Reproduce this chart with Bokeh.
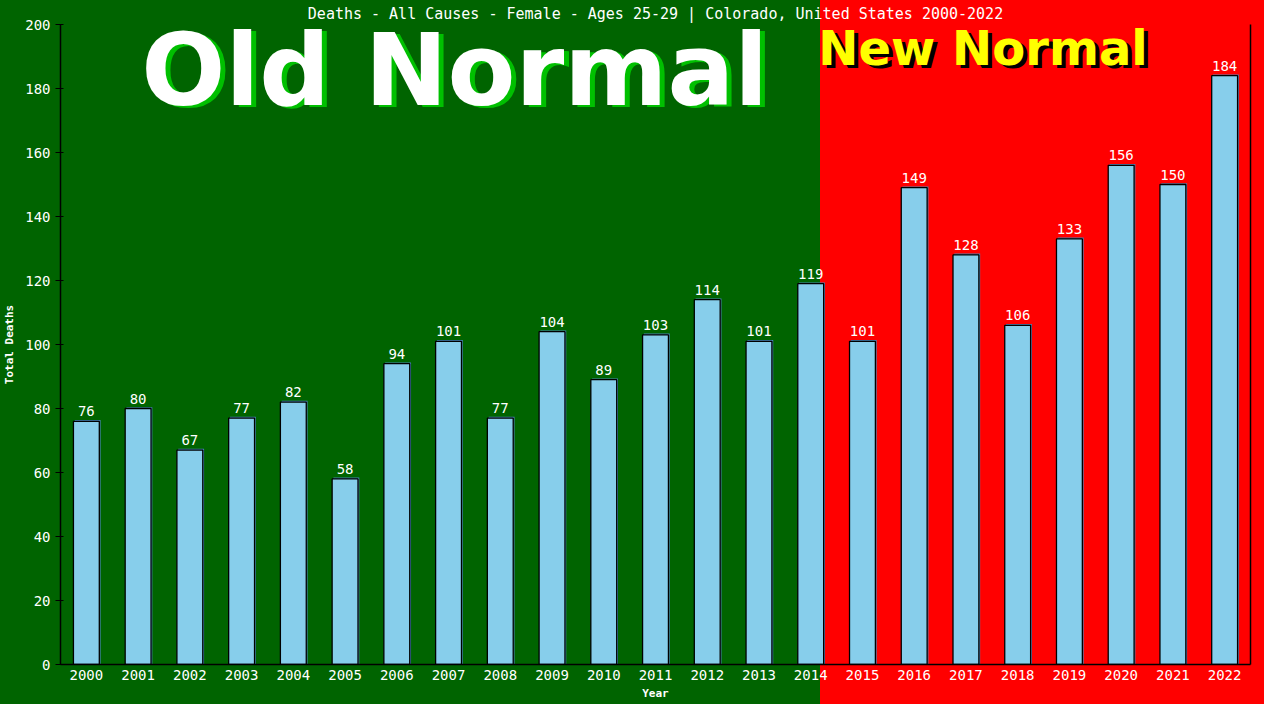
from bokeh.plotting import figure
from bokeh.models import ColumnDataSource, FixedTicker, LinearAxis, Range1d
from bokeh.core.properties import value
from bokeh.embed import file_html
from bokeh.resources import INLINE

years = list(range(2000, 2023))
deaths = [76, 80, 67, 77, 82, 58, 94, 101, 77, 104, 89, 103, 114, 101, 119,
          101, 149, 128, 106, 133, 156, 150, 184]
y_ticks = list(range(0, 201, 20))
title_text = "Deaths - All Causes - Female - Ages 25-29 | Colorado, United States 2000-2022"
old_label = "Old Normal"
new_label = "New Normal"
new_normal_start = 2014.18

GREEN = "#006400"
RED = "#ff0000"
MONO = "DejaVu Sans Mono"

X0, X1 = 1999.5, 2022.5
PX_X = 1190 / (X1 - X0)   # pixels per year (approx frame width)
PX_Y = 640 / 200          # pixels per death (approx frame height)

src = ColumnDataSource(dict(
    x=years,
    top=deaths,
    label=[str(d) for d in deaths],
    sx=[y + 1.3 / PX_X for y in years],
    stop=[d + 1.3 / PX_Y for d in deaths],
))

p = figure(width=1264, height=704, output_backend="svg", toolbar_location=None,
           x_range=Range1d(X0, X1), y_range=Range1d(0, 200),
           min_border_left=58, min_border_right=14, min_border_top=24,
           min_border_bottom=40)
p.background_fill_alpha = 0
p.border_fill_alpha = 0
p.outline_line_color = None
p.styles = {"background": f"linear-gradient(to right, {GREEN} 0%, {GREEN} 64.84%, {RED} 64.84%, {RED} 100%)"}

p.title.text = title_text
p.title.align = "center"
p.title.text_color = "white"
p.title.text_font = MONO
p.title.text_font_size = "15px"
p.title.text_font_style = "normal"
p.title.standoff = 3
p.title.offset = 0

# red "new normal" region inside the frame
p.quad(left=[new_normal_start], right=[X1], bottom=[0], top=[200],
       fill_color=RED, line_color=None)

# bar shadows then bars
p.vbar(x="sx", top="stop", width=0.5, bottom=0, source=src,
       fill_color="#4682b4", line_color=None)
p.vbar(x="x", top="top", width=0.5, bottom=0, source=src,
       fill_color="#87ceeb", line_color="black", line_width=1.3)

p.text(x="x", y="top", text="label", source=src, text_align="center",
       text_baseline="bottom", y_offset=-5, text_color="white",
       text_font=value(MONO), text_font_size="14px")

# headline labels (shadow first, then face)
for txt, xc, yb, size, fg, shadow, dx, dy in [
    (new_label, 2017.33, 192.6, "48px", "#ffff00", "black", 4, 3),
    (old_label, 2007.12, 185.7, "99px", "white", "#00c000", 5, 2),
]:
    p.text(x=[xc + dx / PX_X], y=[yb - dy / PX_Y], text=[txt],
           text_align="center", text_baseline="alphabetic",
           text_font=value("DejaVu Sans"), text_font_style=value("bold"),
           text_font_size=value(size), text_color=shadow)
    p.text(x=[xc], y=[yb], text=[txt], text_align="center",
           text_baseline="alphabetic",
           text_font=value("DejaVu Sans"), text_font_style=value("bold"),
           text_font_size=value(size), text_color=fg)

p.xgrid.visible = False
p.ygrid.visible = False

xa = p.xaxis[0]
xa.ticker = FixedTicker(ticks=years)
xa.major_tick_out = 0
xa.major_tick_in = 0
xa.minor_tick_out = 0
xa.minor_tick_in = 0
xa.axis_line_color = "black"
xa.axis_line_width = 1.5
xa.major_label_text_color = "white"
xa.major_label_text_font = MONO
xa.major_label_text_font_size = "14px"
xa.major_label_standoff = 5
xa.axis_label = "Year"
xa.axis_label_text_color = "white"
xa.axis_label_text_font = MONO
xa.axis_label_text_font_style = "bold"
xa.axis_label_text_font_size = "11px"
xa.axis_label_standoff = 4

ya = p.yaxis[0]
ya.ticker = FixedTicker(ticks=y_ticks)
ya.major_tick_out = 5
ya.major_tick_in = 3
ya.minor_tick_out = 0
ya.minor_tick_in = 0
ya.major_tick_line_color = "black"
ya.axis_line_color = "black"
ya.axis_line_width = 1.5
ya.major_label_text_color = "white"
ya.major_label_text_font = MONO
ya.major_label_text_font_size = "14px"
ya.major_label_standoff = 5
ya.axis_label = "Total Deaths"
ya.axis_label_text_color = "white"
ya.axis_label_text_font = MONO
ya.axis_label_text_font_style = "bold"
ya.axis_label_text_font_size = "11px"
ya.axis_label_standoff = 6

ra = LinearAxis(ticker=FixedTicker(ticks=[]), axis_line_color="black",
                axis_line_width=1.5, major_tick_out=0, major_tick_in=0,
                minor_tick_out=0, minor_tick_in=0,
                major_label_text_font_size="0px")
p.add_layout(ra, "right")

open("out.html", "w").write(file_html(p, INLINE))
